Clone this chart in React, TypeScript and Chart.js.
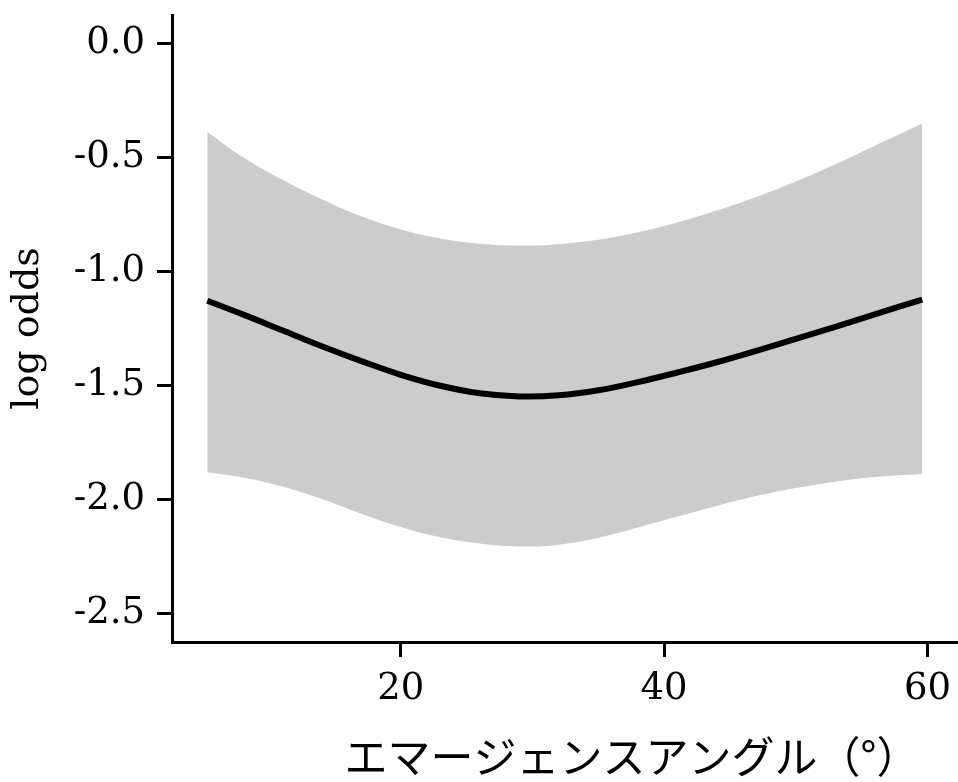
import React, { useEffect, useRef } from "react";
import { Chart, registerables } from "chart.js";

Chart.register(...registerables);

// Emergence angle (degrees)
const angles = [5.3, 8, 11, 14, 17, 20, 23, 26, 29, 32, 35, 38, 41, 44, 47, 50, 53, 56, 59.6];
// Fitted log odds
const fitValues = [-1.13, -1.19, -1.26, -1.33, -1.395, -1.455, -1.503, -1.536, -1.55, -1.545, -1.523, -1.487, -1.445, -1.4, -1.35, -1.298, -1.245, -1.19, -1.125];
// Upper confidence bound
const upperValues = [-0.39, -0.5, -0.6, -0.685, -0.76, -0.818, -0.857, -0.88, -0.888, -0.882, -0.863, -0.83, -0.787, -0.735, -0.675, -0.607, -0.532, -0.45, -0.354];
// Lower confidence bound
const lowerValues = [-1.882, -1.905, -1.945, -2.0, -2.065, -2.123, -2.168, -2.195, -2.208, -2.2, -2.17, -2.125, -2.077, -2.03, -1.987, -1.952, -1.924, -1.903, -1.89];

const xTicks = [20, 40, 60];
const yTicks = [0, -0.5, -1.0, -1.5, -2.0, -2.5];

const xTitle = "エマージェンスアングル（°）";
const yTitle = "log odds";

export default function App() {
  const canvasRef = useRef<HTMLCanvasElement | null>(null);

  useEffect(() => {
    const canvas = canvasRef.current;
    if (!canvas) return;
    const pts = (ys: number[]) => angles.map((x, i) => ({ x, y: ys[i] }));
    const chart = new Chart(canvas, {
      type: "line",
      data: {
        datasets: [
          {
            label: "fit",
            data: pts(fitValues),
            borderWidth: 6,
            borderColor: "#000000",
            pointRadius: 0,
            tension: 0.4,
            fill: false,
          },
          {
            label: "lower",
            data: pts(lowerValues),
            borderWidth: 0,
            borderColor: "rgba(0,0,0,0)",
            pointRadius: 0,
            tension: 0.4,
            fill: false,
          },
          {
            label: "upper",
            data: pts(upperValues),
            borderWidth: 0,
            borderColor: "rgba(0,0,0,0)",
            backgroundColor: "#cccccc",
            pointRadius: 0,
            tension: 0.4,
            fill: "-1",
          },
        ],
      },
      options: {
        animation: false,
        responsive: false,
        devicePixelRatio: 1,
        layout: { padding: { top: 15, left: 0, right: 0, bottom: 0 } },
        plugins: {
          legend: { display: false },
          tooltip: { enabled: false },
        },
        scales: {
          x: {
            type: "linear",
            min: 2.62,
            max: 72.5,
            afterBuildTicks: (scale: any) => {
              scale.ticks = xTicks.map((v) => ({ value: v }));
            },
            afterFit: (scale: any) => {
              scale.height = 140;
              scale.paddingLeft = 0;
              scale.paddingRight = 0;
            },
            border: { display: true, color: "#000", width: 3 },
            grid: {
              drawOnChartArea: false,
              drawTicks: true,
              tickLength: 15,
              tickWidth: 3,
              tickColor: "#000",
            },
            ticks: {
              color: "#000",
              padding: 10,
              font: { family: "'DejaVu Serif'", size: 37 },
              maxRotation: 0,
              callback: (v: any) => String(v),
            },
            title: {
              display: true,
              text: xTitle,
              color: "#000",
              padding: 0,
              font: { family: "'Noto Sans CJK JP'", size: 43 },
            },
          },
          y: {
            type: "linear",
            min: -2.627,
            max: 0.123,
            afterBuildTicks: (scale: any) => {
              scale.ticks = yTicks.map((v) => ({ value: v }));
            },
            afterFit: (scale: any) => {
              scale.width = 172;
              scale.paddingTop = 0;
              scale.paddingBottom = 0;
            },
            border: { display: true, color: "#000", width: 3 },
            grid: {
              drawOnChartArea: false,
              drawTicks: true,
              tickLength: 15,
              tickWidth: 3,
              tickColor: "#000",
            },
            ticks: {
              color: "#000",
              padding: 12,
              font: { family: "'DejaVu Serif'", size: 37 },
              callback: (v: any) => Number(v).toFixed(1),
            },
            title: {
              display: true,
              text: yTitle,
              color: "#000",
              padding: { top: 5, bottom: 0 },
              font: { family: "'DejaVu Serif'", size: 38 },
            },
          },
        },
      },
    });
    return () => chart.destroy();
  }, []);

  return (
    <div
      style={{
        position: "fixed",
        left: 0,
        top: 0,
        width: 958,
        height: 782,
        overflow: "hidden",
        background: "#fff",
      }}
    >
      <canvas ref={canvasRef} width={1092} height={782} style={{ display: "block" }} />
    </div>
  );
}
